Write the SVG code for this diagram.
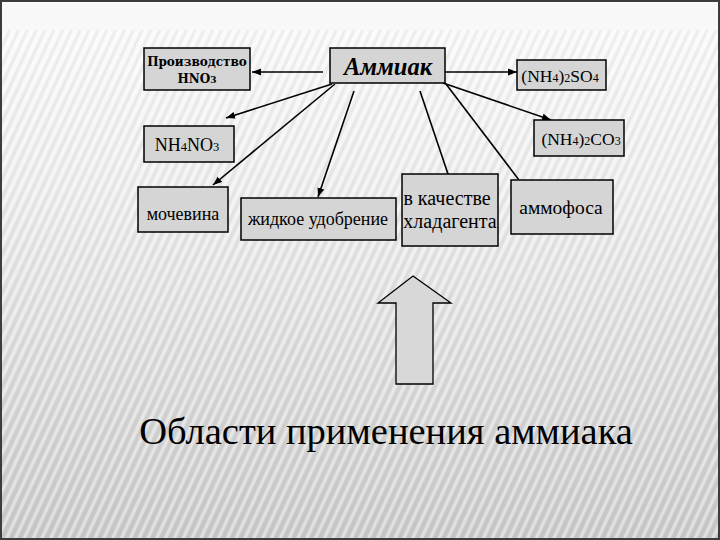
<svg xmlns="http://www.w3.org/2000/svg" width="720" height="540" viewBox="0 0 720 540">
<style>
.box{fill:#d5d5d5;stroke:#000;stroke-width:1.5}
.t{font-family:'Liberation Serif','Times New Roman',serif;fill:#000;text-anchor:middle}
.b{font-family:'DejaVu Serif','Liberation Serif',serif;font-weight:bold;font-size:12px}
.c{stroke:#000;stroke-width:1.6;fill:none}
.a{marker-end:url(#ah)}
</style>
<defs>
<linearGradient id="bg" x1="0" y1="0" x2="0" y2="1">
<stop offset="0" stop-color="#fbfbfb"/>
<stop offset="0.35" stop-color="#eeeeee"/>
<stop offset="1" stop-color="#cbcbcb"/>
</linearGradient>
<pattern id="st" width="8" height="8" patternUnits="userSpaceOnUse" patternTransform="rotate(25)">
<rect x="0" y="0" width="3" height="8" fill="#ffffff" opacity="0.4"/>
<rect x="4" y="0" width="3" height="8" fill="#8a8a8a" opacity="0.1"/>
</pattern>
<marker id="ah" markerUnits="userSpaceOnUse" markerWidth="10" markerHeight="8" refX="9" refY="4" orient="auto">
<path d="M0,0.5 L9,4 L0,7.5 z" fill="#000"/>
</marker>
</defs>
<g id="background">
<rect x="0" y="0" width="720" height="540" fill="#3c3c3c"/>
<rect x="2" y="2" width="716" height="536" fill="url(#bg)"/>
<rect x="2" y="30" width="716" height="508" fill="url(#st)"/>
<rect x="4" y="4" width="712" height="26" fill="#f8f8f8"/>
</g>
<g id="connectors">
<path class="c a" d="M323,72 L252,72"/>
<path class="c a" d="M445,72 L517,72"/>
<path class="c a" d="M332,84 L226,118"/>
<path class="c a" d="M335,84 L213,185"/>
<path class="c a" d="M354,91 L318,197"/>
<path class="c" d="M420,91 L448,174"/>
<path class="c a" d="M443,83 L551,120"/>
<path class="c" d="M446,84 L519,180"/>
</g>
<g id="n-hno3">
<rect class="box" x="144" y="48" width="106" height="42"/>
<text class="b" x="197" y="66" text-anchor="middle">Производство</text>
<text class="b" x="197" y="83" text-anchor="middle">HNO<tspan font-size="9">3</tspan></text>
</g>
<g id="n-ammiak">
<rect class="box" x="330" y="48" width="115" height="35"/>
<text class="t" x="388" y="75" font-size="24.5" font-weight="bold" font-style="italic">Аммиак</text>
</g>
<g id="n-so4">
<rect class="box" x="517" y="60" width="89" height="30"/>
<text class="t" x="560" y="82" font-size="17.5">(NH<tspan font-size="12">4</tspan>)<tspan font-size="12">2</tspan>SO<tspan font-size="12">4</tspan></text>
</g>
<g id="n-co3">
<rect class="box" x="534" y="120" width="90" height="36"/>
<text class="t" x="581" y="145" font-size="17.5">(NH<tspan font-size="12">4</tspan>)<tspan font-size="12">2</tspan>CO<tspan font-size="12">3</tspan></text>
</g>
<g id="n-nh4no3">
<rect class="box" x="144" y="126" width="90" height="36"/>
<text class="t" x="187" y="151" font-size="18">NH<tspan font-size="12.5">4</tspan>NO<tspan font-size="12.5">3</tspan></text>
</g>
<g id="n-mochevina">
<rect class="box" x="138" y="187" width="90" height="45"/>
<text class="t" x="183" y="220" font-size="18">мочевина</text>
</g>
<g id="n-zhidkoe">
<rect class="box" x="241" y="198" width="155" height="42"/>
<text class="t" x="318" y="225" font-size="18">жидкое удобрение</text>
</g>
<g id="n-hladagent">
<rect class="box" x="402" y="174" width="96" height="72"/>
<text class="t" x="447" y="205" font-size="20">в качестве</text>
<text class="t" x="450" y="228" font-size="20">хладагента</text>
</g>
<g id="n-ammofosa">
<rect class="box" x="511" y="180" width="102" height="54"/>
<text class="t" x="561" y="214" font-size="19.5">аммофоса</text>
</g>
<g id="big-arrow">
<polygon points="413,276 451,303 433,303 433,384 396,384 396,303 378,303" fill="#d8d8d8" stroke="#000" stroke-width="1.3"/>
</g>
<g id="title">
<text class="t" x="386" y="444" font-size="38.5">Области применения аммиака</text>
</g>
</svg>
